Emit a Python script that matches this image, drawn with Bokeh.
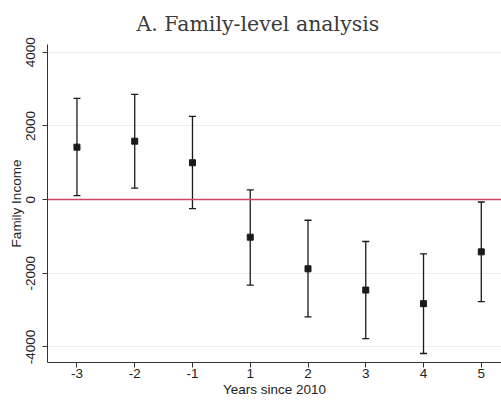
from bokeh.plotting import figure
from bokeh.models import (ColumnDataSource, Whisker, TeeHead, Span, FixedTicker,
                          Range1d, Title)
from bokeh.embed import file_html
from bokeh.resources import INLINE

# Event-study estimates with 95% confidence intervals
years = ["-3", "-2", "-1", "1", "2", "3", "4", "5"]
estimate = [1424, 1586, 1001, -1020, -1878, -2455, -2825, -1418]
ci_low = [108, 314, -243, -2319, -3185, -3772, -4178, -2771]
ci_high = [2750, 2858, 2262, 262, -560, -1137, -1472, -65]
y_ticks = [-4000, -2000, 0, 2000, 4000]
y_tick_labels = ["-4000", "-2000", "0", "2000", "4000"]

pos = list(range(1, len(years) + 1))
src = ColumnDataSource(dict(x=pos, est=estimate, lo=ci_low, hi=ci_high))

p = figure(width=501, height=400, output_backend="svg", toolbar_location=None,
           x_range=Range1d(0.49, 8.35), y_range=Range1d(-4422, 4211),
           min_border_left=47, min_border_right=0, min_border_top=43,
           min_border_bottom=38, background_fill_color="white",
           border_fill_color="white")
p.outline_line_color = None

p.add_layout(Title(text="A. Family-level analysis", text_font="DejaVu Serif",
                   text_font_size="20.5px", text_font_style="normal",
                   text_color="#3a3a3a", align="left", offset=89,
                   standoff=18), "above")

# axes
ax_font = "Liberation Sans"
p.xaxis.ticker = FixedTicker(ticks=pos)
p.xaxis.major_label_overrides = {i: t for i, t in zip(pos, years)}
p.yaxis.ticker = FixedTicker(ticks=y_ticks)
p.yaxis.major_label_overrides = {v: t for v, t in zip(y_ticks, y_tick_labels)}
p.yaxis.major_label_orientation = "vertical"
p.xaxis.axis_label = "Years since 2010"
p.yaxis.axis_label = "Family Income"
for ax in (p.xaxis, p.yaxis):
    ax.axis_line_color = "#333333"
    ax.major_tick_line_color = "#333333"
    ax.major_tick_out = 5
    ax.major_tick_in = 0
    ax.minor_tick_line_color = None
    ax.major_label_text_font = ax_font
    ax.major_label_text_font_size = "13.5px"
    ax.major_label_text_color = "#222222"
    ax.axis_label_text_font = ax_font
    ax.axis_label_text_font_size = "13.5px"
    ax.axis_label_text_font_style = "normal"
    ax.axis_label_text_color = "#222222"
p.xaxis.major_label_standoff = 1
p.xaxis.axis_label_standoff = 1
p.yaxis.major_label_standoff = 7
p.yaxis.axis_label_standoff = 0

p.xgrid.grid_line_color = None
p.ygrid.grid_line_color = "#e6eff0"
p.ygrid.grid_line_width = 1

# reference line at zero
p.add_layout(Span(location=0, dimension="width", line_color="#c9485f",
                  line_width=1.5))

# confidence intervals
p.add_layout(Whisker(source=src, base="x", lower="lo", upper="hi",
                     dimension="height", line_color="#1a1a1a", line_width=1.3,
                     lower_head=TeeHead(size=7, line_color="#1a1a1a", line_width=1.3),
                     upper_head=TeeHead(size=7, line_color="#1a1a1a", line_width=1.3)))

# point estimates
p.scatter("x", "est", source=src, marker="square", size=6,
          fill_color="#1a1a1a", line_color="#1a1a1a")

open("out.html", "w").write(file_html(p, INLINE))
